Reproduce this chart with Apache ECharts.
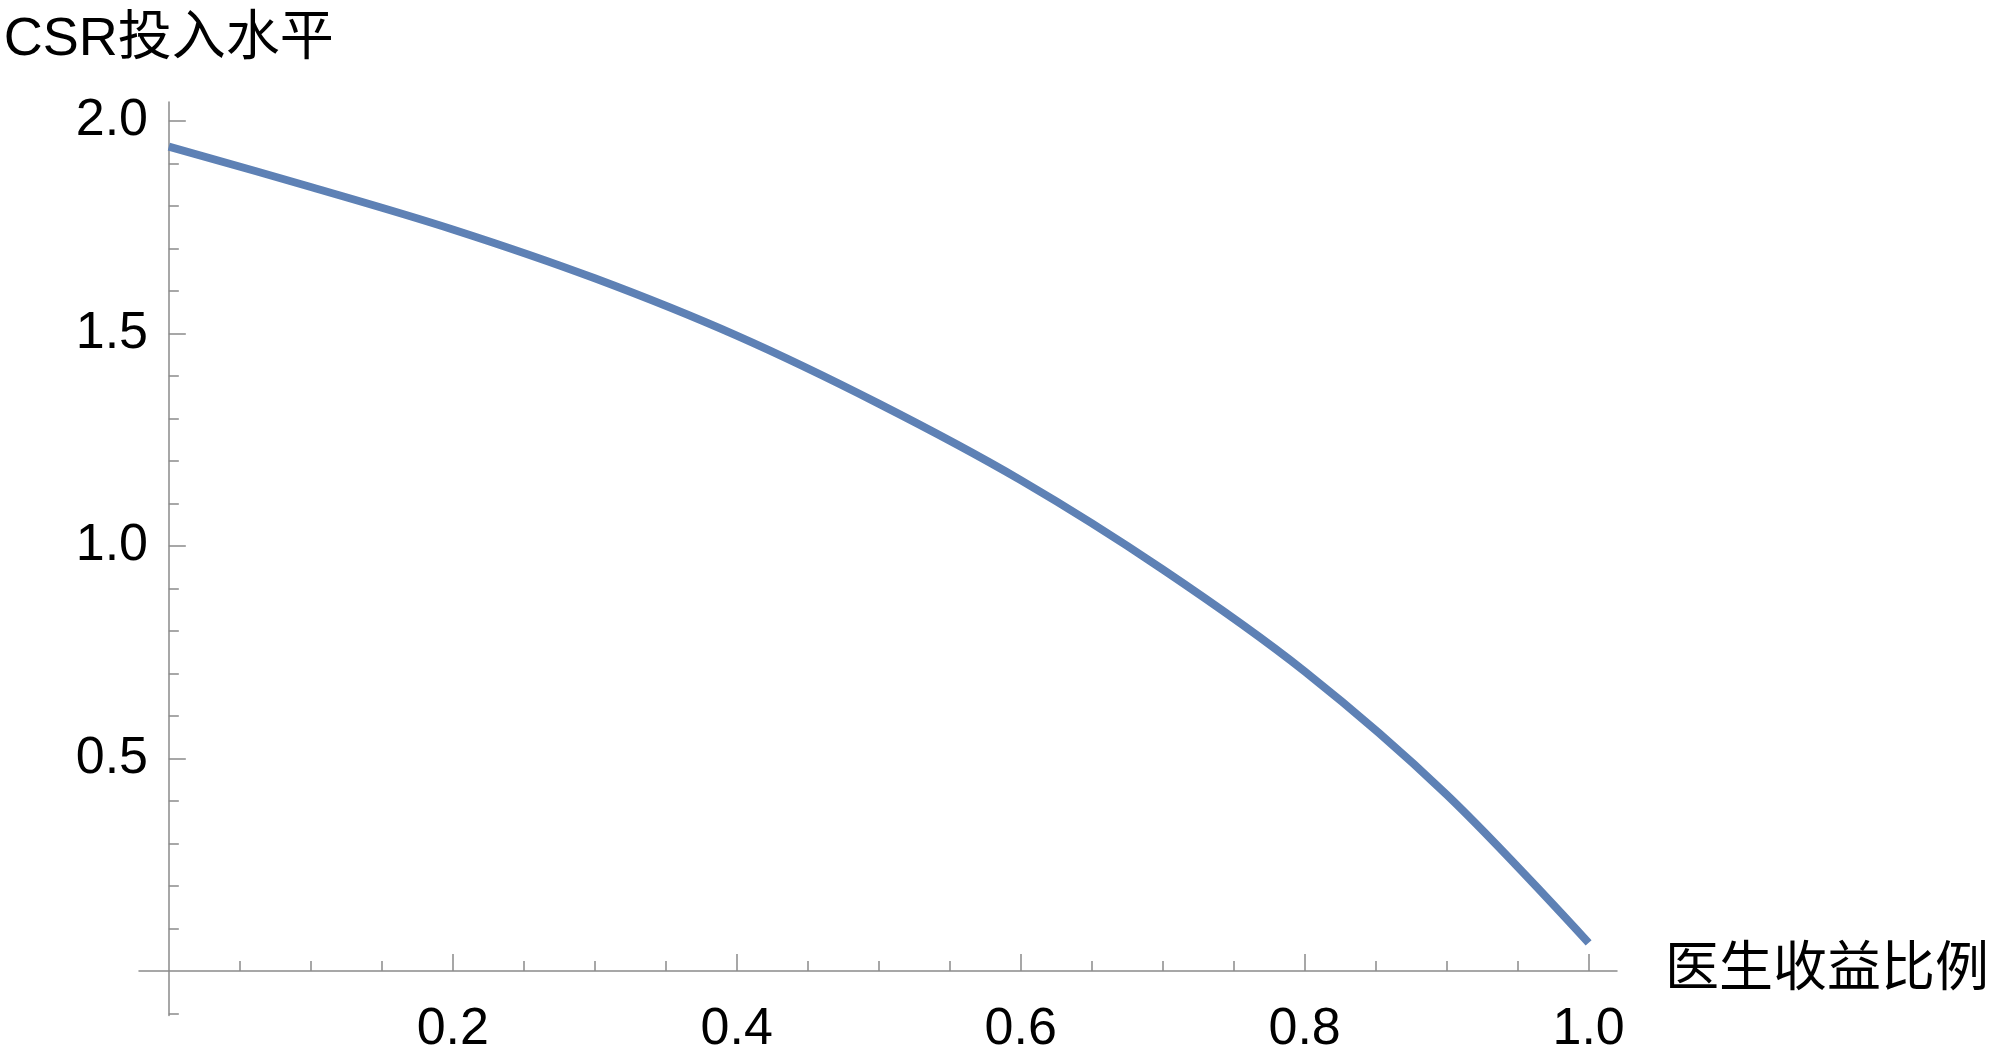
<!DOCTYPE html>
<html>
<head>
<meta charset="utf-8">
<script src="https://cdn.jsdelivr.net/npm/echarts@6/dist/echarts.min.js"></script>
<style>
html, body { margin: 0; padding: 0; background: #fff; }
#main { width: 2000px; height: 1060px; }
</style>
</head>
<body>
<div id="main"></div>
<script>
// values
var shareX = [0, 0.1, 0.2, 0.3, 0.4, 0.5, 0.6, 0.7, 0.8, 0.9, 1.0];
var csrY = [1.94, 1.845, 1.745, 1.63, 1.495, 1.335, 1.155, 0.945, 0.705, 0.415, 0.066];

var xLabels = [0.2, 0.4, 0.6, 0.8, 1.0];
var xMinorTicks = [0.05, 0.1, 0.15, 0.25, 0.3, 0.35, 0.45, 0.5, 0.55, 0.65, 0.7, 0.75, 0.85, 0.9, 0.95];
var yLabels = [0.5, 1.0, 1.5, 2.0];
var yMinorTicks = [-0.1, 0.1, 0.2, 0.3, 0.4, 0.6, 0.7, 0.8, 0.9, 1.1, 1.2, 1.3, 1.4, 1.6, 1.7, 1.8, 1.9];

var font = "'Liberation Sans', 'Noto Sans CJK SC', sans-serif";
var axisGray = '#8a8a8a';

var pts = [];
for (var i = 0; i < shareX.length; i++) {
  pts.push([shareX[i], csrY[i]]);
}

var mychart = echarts.init(document.getElementById('main'));
var xMin = -0.021, xMax = 1.02;
var yMin = -0.105, yMax = 2.045;

var option = {
  animation: false,
  grid: { left: 139, top: 102, width: 1478, height: 913.5, outerBoundsMode: 'none', containLabel: false },
  xAxis: [
    {
      type: 'value', min: xMin, max: xMax,
      name: '医生收益比例', nameLocation: 'end', nameGap: 48,
      nameTextStyle: { fontFamily: font, fontSize: 54, color: '#000', padding: [18, 0, 0, 0] },
      axisLine: { onZero: true, onZeroAxisIndex: 0, lineStyle: { color: axisGray, width: 1.5 } },
      axisTick: { inside: true, length: 10, customValues: xMinorTicks, lineStyle: { color: axisGray, width: 1.5 } },
      axisLabel: {
        customValues: xLabels, margin: -12, color: '#000', fontFamily: font, fontSize: 52,
        formatter: function (v) { return v.toFixed(1); }
      },
      splitLine: { show: false }
    },
    {
      type: 'value', min: xMin, max: xMax, position: 'bottom',
      axisLine: { show: false, onZero: true, onZeroAxisIndex: 1 },
      axisTick: { inside: true, length: 17, customValues: xLabels, lineStyle: { color: axisGray, width: 1.5 } },
      axisLabel: { show: false },
      splitLine: { show: false }
    }
  ],
  yAxis: [
    {
      type: 'value', min: yMin, max: yMax,
      name: 'CSR投入水平', nameLocation: 'end', nameGap: 35,
      nameTextStyle: { fontFamily: font, fontSize: 54, color: '#000' },
      axisLine: { onZero: true, onZeroAxisIndex: 0, lineStyle: { color: axisGray, width: 1.5 } },
      axisTick: { inside: true, length: 10, customValues: yMinorTicks, lineStyle: { color: axisGray, width: 1.5 } },
      axisLabel: {
        customValues: yLabels, margin: -9, color: '#000', fontFamily: font, fontSize: 52,
        padding: [8, 0, 0, 0],
        formatter: function (v) { return v.toFixed(1); }
      },
      splitLine: { show: false }
    },
    {
      type: 'value', min: yMin, max: yMax, position: 'left',
      axisLine: { show: false, onZero: true, onZeroAxisIndex: 1 },
      axisTick: { inside: true, length: 17, customValues: yLabels, lineStyle: { color: axisGray, width: 1.5 } },
      axisLabel: { show: false },
      splitLine: { show: false }
    }
  ],
  series: [
    {
      type: 'line',
      data: pts,
      smooth: 0.35,
      showSymbol: false,
      lineStyle: { color: '#5e81b5', width: 8, cap: 'butt' }
    }
  ]
};
mychart.setOption(option);
</script>
</body>
</html>
